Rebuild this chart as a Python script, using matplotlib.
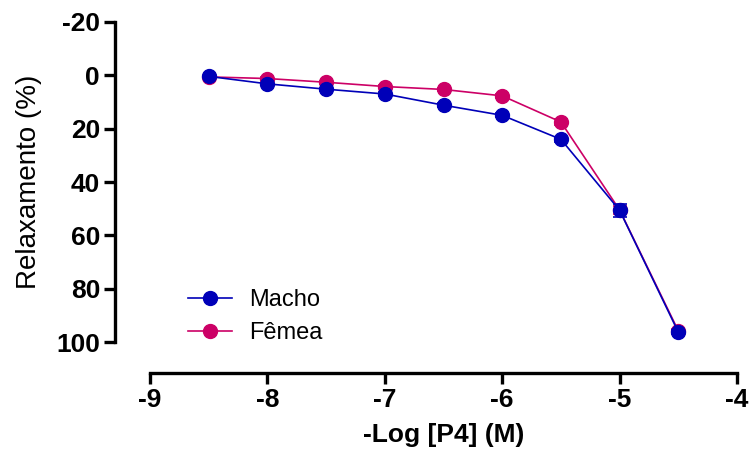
import matplotlib.pyplot as plt
from matplotlib.lines import Line2D

log_conc = [-8.5, -8, -7.5, -7, -6.5, -6, -5.5, -5, -4.5]
macho = [0.4, 3.2, 5.2, 7.0, 11.2, 15.0, 24.0, 50.6, 96.3]
macho_sem = [0.3, 0.5, 0.6, 0.6, 0.8, 0.8, 1.0, 2.5, 0.8]
femea = [0.6, 1.2, 2.6, 4.2, 5.3, 7.7, 17.5, 50.5, 95.8]
femea_sem = [0.3, 0.4, 0.5, 0.6, 0.6, 0.7, 1.0, 1.5, 0.8]

plt.rcParams['font.family'] = ['Liberation Sans', 'DejaVu Sans']
plt.rcParams['axes.unicode_minus'] = False

fig = plt.figure(figsize=(7.49, 4.57), dpi=100)
ax = fig.add_axes([0.2003, 0.2516, 0.7837, 0.7003])

blue = '#0000b8'
pink = '#cc0066'
ax.errorbar(log_conc, femea, yerr=femea_sem, color=pink, marker='o', ms=10,
            lw=1.2, capsize=5, capthick=1.2, elinewidth=1.2, zorder=2)
ax.errorbar(log_conc, macho, yerr=macho_sem, color=blue, marker='o', ms=10,
            lw=1.2, capsize=5, capthick=1.2, elinewidth=1.2, zorder=3)

ax.set_xlim(-9, -4)
ax.set_ylim(100, -20)
ax.set_xticks([-9, -8, -7, -6, -5, -4])
ax.set_yticks([-20, 0, 20, 40, 60, 80, 100])

for s in ['top', 'right']:
    ax.spines[s].set_visible(False)
ax.spines['left'].set_position(('outward', 25))
ax.spines['bottom'].set_position(('outward', 22))
ax.spines['left'].set_linewidth(2.4)
ax.spines['bottom'].set_linewidth(2.4)
ax.tick_params(width=2.4, length=8, labelsize=19, pad=3)
for lab in ax.get_xticklabels() + ax.get_yticklabels():
    lab.set_fontweight('bold')

ax.set_xlabel('-Log [P4] (M)', fontsize=19, fontweight='bold', labelpad=8)
ax.set_ylabel('Relaxamento (%)', fontsize=20, labelpad=10)

handles = [Line2D([], [], color=blue, marker='o', ms=10, lw=1.2),
           Line2D([], [], color=pink, marker='o', ms=10, lw=1.2)]
fig.legend(handles, ['Macho', 'Fêmea'], loc='center left',
           bbox_to_anchor=(0.222, 0.307), frameon=False, fontsize=17,
           handlelength=1.9, labelspacing=0.45, handletextpad=0.7)

fig.savefig('out.png', dpi=100)
